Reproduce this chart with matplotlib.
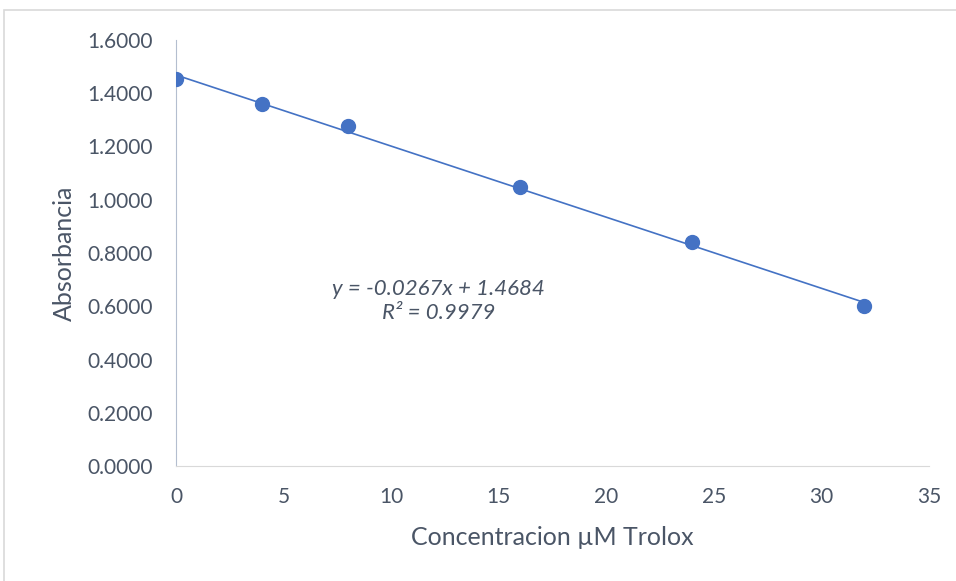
import numpy as np
import matplotlib.pyplot as plt
from matplotlib.patches import Rectangle

# Trolox calibration data
conc = [0, 4, 8, 16, 24, 32]
absorb = [1.4535, 1.3596, 1.2770, 1.0480, 0.8410, 0.6010]

# Trendline reported in the chart
slope = -0.0267
intercept = 1.4684
r2 = 0.9979

blue = '#4472C4'
grey_text = '#4A5566'

plt.rcParams['font.family'] = ['Lato', 'DejaVu Sans']

fig = plt.figure(figsize=(9.56, 5.81), dpi=100)
ax = fig.add_axes([0.1841, 0.1979, 0.7877, 0.7333])

# outer frame of the chart area
fig.patches.append(Rectangle((4 / 956, -0.1), 1.2, 1 - 10 / 581 + 0.1,
                             transform=fig.transFigure, fill=False,
                             edgecolor='#D9D9D9', linewidth=1.2))

# Trendline
x_fit = np.array([min(conc), max(conc)])
ax.plot(x_fit, slope * x_fit + intercept, color=blue, linewidth=1.2, zorder=2)

# Points
ax.plot(conc, absorb, 'o', color=blue, markersize=10, zorder=3)

ax.set_xlim(0, 35)
ax.set_ylim(0, 1.6)
ax.set_xticks(range(0, 36, 5))
ax.set_yticks(np.arange(0, 1.61, 0.2))
ax.yaxis.set_major_formatter(plt.FormatStrFormatter('%.4f'))

for s in ['top', 'right']:
    ax.spines[s].set_visible(False)
ax.spines['left'].set_color('#B4BECF')
ax.spines['bottom'].set_color('#D9D9D9')
ax.tick_params(axis='y', length=0, pad=17, labelsize=15, labelcolor=grey_text)
ax.tick_params(axis='x', length=0, pad=15, labelsize=15, labelcolor=grey_text)

ax.set_xlabel('Concentracion µM Trolox', fontsize=18, color=grey_text, labelpad=14)
ax.set_ylabel('Absorbancia', fontsize=18, color=grey_text, labelpad=8)

ax.text(12.2, 0.62, f'y = {slope:.4f}x + {intercept:.4f}\nR² = {r2:.4f}',
        ha='center', va='center', fontsize=16, style='italic',
        color=grey_text, linespacing=1.2)

fig.savefig('out.png', dpi=100)
